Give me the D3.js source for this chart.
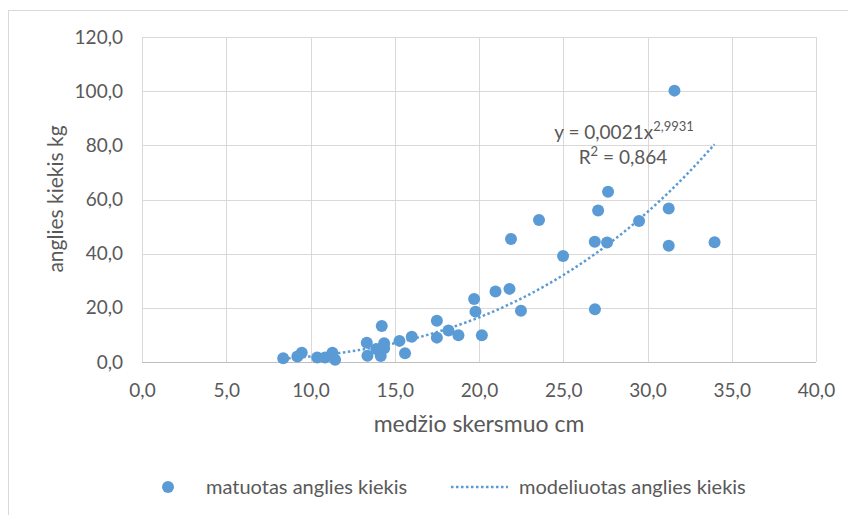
<!DOCTYPE html>
<html lang="lt">
<head>
<meta charset="UTF-8">
<title>Anglies kiekis</title>
<script src="https://d3js.org/d3.v7.min.js"></script>
<style>
  body { margin: 0; background: #fff; }
  svg { display: block; }
  .tick text { font-family: Lato, sans-serif; font-size: 19px; fill: #595959; }
  .lbl { font-family: Lato, sans-serif; fill: #595959; }
</style>
</head>
<body>
<svg width="848" height="515"></svg>
<script>
// matuoti duomenys: skersmuo (cm) ir anglies kiekis (kg)
const diameter = [8.38, 9.22, 9.48, 10.40, 10.86, 11.30, 11.46, 13.34, 13.38, 13.90, 14.17, 14.23, 14.37, 14.37,
  15.28, 15.61, 16.01, 17.50, 17.50, 18.19, 18.78, 19.71, 19.79, 20.17, 20.98, 21.81, 22.49,
  21.90, 23.56, 24.99, 26.87, 26.88, 27.07, 27.66, 27.60, 29.50, 31.26, 31.26, 31.60, 33.98];
const carbon = [1.4, 2.0, 3.4, 1.7, 1.7, 3.4, 0.8, 7.1, 2.3, 4.8, 2.2, 13.3, 6.9, 5.1,
  7.8, 3.2, 9.3, 15.2, 9.0, 11.6, 9.9, 23.3, 18.6, 9.9, 26.0, 27.0, 18.9,
  45.4, 52.4, 39.1, 44.4, 19.5, 55.9, 62.9, 44.1, 52.1, 56.7, 42.9, 100.2, 44.2];

// trendo linija: y = a * x^b
const trendA = 0.0021, trendB = 2.9931;
const xTicks = [0, 5, 10, 15, 20, 25, 30, 35, 40];
const yTicks = [0, 20, 40, 60, 80, 100, 120];

const blue = "#5B9BD5";
const svg = d3.select("svg");
const fmt = v => d3.format(".1f")(v).replace(".", ",");

const x = d3.scaleLinear().domain([0, 40]).range([142, 816]);
const y = d3.scaleLinear().domain([0, 120]).range([362, 37]);

// rėmelis
svg.append("rect").attr("x", 8.5).attr("y", 10.5).attr("width", 900).attr("height", 600)
  .attr("fill", "none").attr("stroke", "#D9D9D9");

// tinklelis
svg.append("g").selectAll("line").data(yTicks).join("line")
  .attr("x1", x(0)).attr("x2", x(40))
  .attr("y1", d => Math.round(y(d)) + 0.5).attr("y2", d => Math.round(y(d)) + 0.5)
  .attr("stroke", d => d === 0 ? "#BFBFBF" : "#D9D9D9");
svg.append("g").selectAll("line").data(xTicks).join("line")
  .attr("x1", d => Math.round(x(d)) + 0.5).attr("x2", d => Math.round(x(d)) + 0.5)
  .attr("y1", y(120)).attr("y2", y(0))
  .attr("stroke", "#D9D9D9");

// ašys
const gx = svg.append("g").attr("transform", `translate(0,${y(0)})`)
  .call(d3.axisBottom(x).tickValues(xTicks).tickFormat(fmt).tickSize(0).tickPadding(22));
gx.select(".domain").remove();
const gy = svg.append("g").attr("transform", `translate(${x(0)},0)`)
  .call(d3.axisLeft(y).tickValues(yTicks).tickFormat(fmt).tickSize(0).tickPadding(19));
gy.select(".domain").remove();

// ašių pavadinimai
svg.append("text").attr("class", "lbl").attr("x", 479).attr("y", 432)
  .attr("text-anchor", "middle").attr("font-size", 23).text("medžio skersmuo cm");
svg.append("text").attr("class", "lbl").attr("transform", "translate(63,199) rotate(-90)")
  .attr("text-anchor", "middle").attr("font-size", 21).text("anglies kiekis kg");

// trendo kreivė
const xmin = d3.min(diameter), xmax = d3.max(diameter);
const trendPts = d3.range(0, 101).map(i => {
  const xv = xmin + (xmax - xmin) * i / 100;
  return [xv, trendA * Math.pow(xv, trendB)];
});
svg.append("path").datum(trendPts)
  .attr("d", d3.line().x(d => x(d[0])).y(d => y(d[1])))
  .attr("fill", "none").attr("stroke", blue).attr("stroke-width", 2.5)
  .attr("stroke-dasharray", "2.5 2.5");

// taškai
svg.append("g").selectAll("circle").data(diameter).join("circle")
  .attr("cx", d => x(d)).attr("cy", (d, i) => y(carbon[i]))
  .attr("r", 6).attr("fill", blue);

// lygtis
const eq = svg.append("text").attr("class", "lbl").attr("x", 624).attr("y", 139)
  .attr("text-anchor", "middle").attr("font-size", 19);
eq.append("tspan").text("y = 0,0021x");
eq.append("tspan").attr("font-size", 13).attr("dy", -8).text("2,9931");
const r2 = svg.append("text").attr("class", "lbl").attr("x", 623).attr("y", 164)
  .attr("text-anchor", "middle").attr("font-size", 19);
r2.append("tspan").text("R");
r2.append("tspan").attr("font-size", 13).attr("dy", -8).text("2");
r2.append("tspan").attr("dy", 8).text(" = 0,864");

// legenda
const leg = svg.append("g");
leg.append("circle").attr("cx", 168).attr("cy", 487).attr("r", 6).attr("fill", blue);
leg.append("text").attr("class", "lbl").attr("x", 206).attr("y", 494).attr("font-size", 20)
  .text("matuotas anglies kiekis");
leg.append("line").attr("x1", 451).attr("x2", 508).attr("y1", 487).attr("y2", 487)
  .attr("stroke", blue).attr("stroke-width", 2.5).attr("stroke-dasharray", "2.5 2.5");
leg.append("text").attr("class", "lbl").attr("x", 519).attr("y", 494).attr("font-size", 20)
  .text("modeliuotas anglies kiekis");
</script>
</body>
</html>
